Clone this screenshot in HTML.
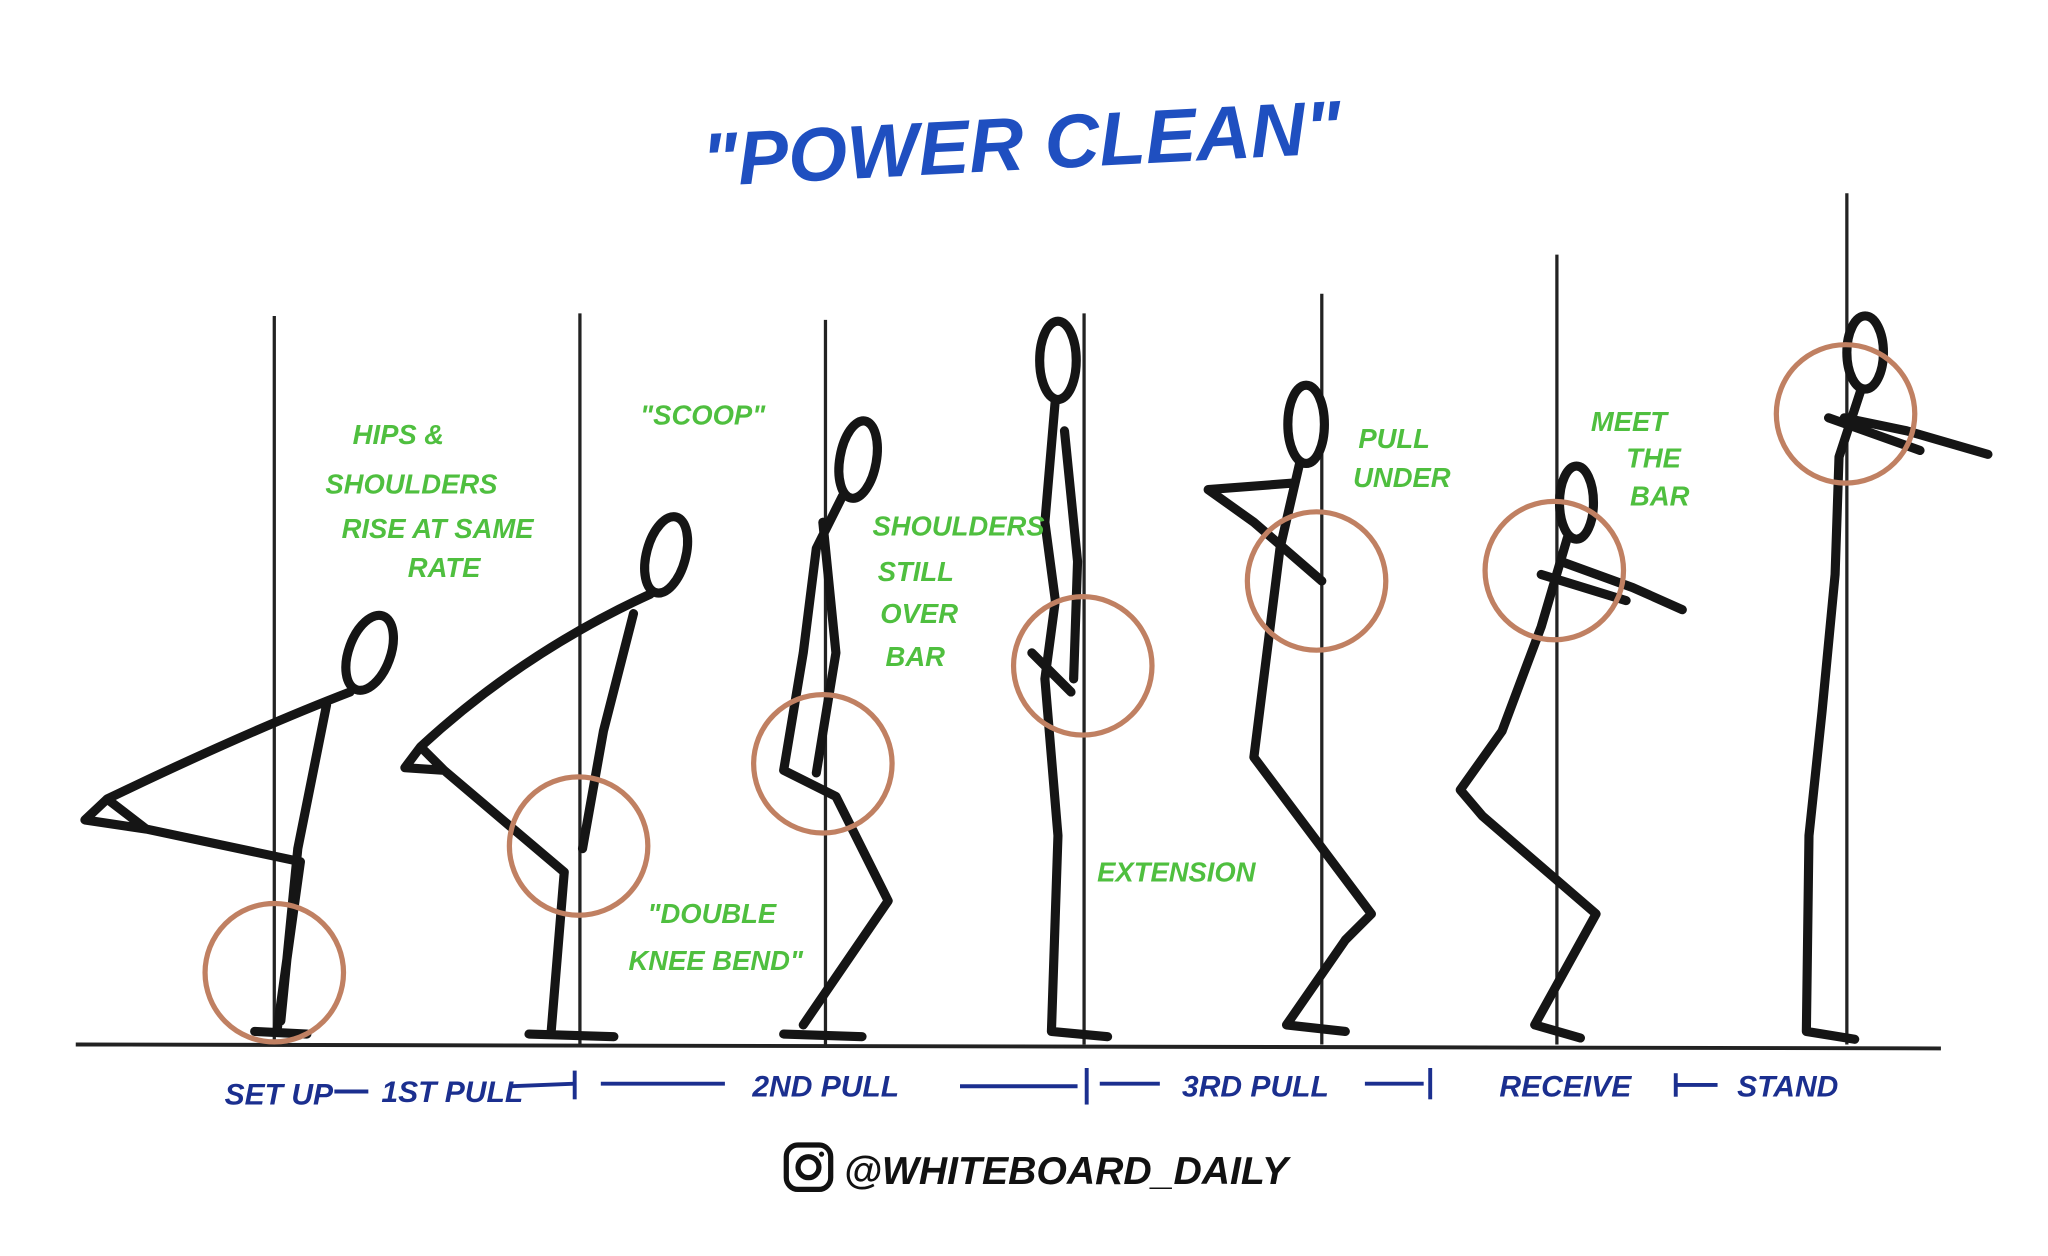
<!DOCTYPE html>
<html><head><meta charset="utf-8"><style>
html,body{margin:0;padding:0;background:#fff;}
svg{display:block;}
.g{fill:#4fbf3f;font-family:"Liberation Sans",sans-serif;font-style:italic;font-weight:bold;font-size:21px;}
.b{fill:#1b2f8f;font-family:"Liberation Sans",sans-serif;font-style:italic;font-weight:bold;font-size:23px;}
.fig{fill:none;stroke:#151515;stroke-width:7;stroke-linecap:round;stroke-linejoin:round;}
.c{fill:none;stroke:#c08062;stroke-width:4;}
.v{stroke:#222;stroke-width:2.5;}
.t{stroke:#1b2f8f;stroke-width:3;}
</style></head><body>
<svg width="2048" height="1256" viewBox="0 0 1568 962" preserveAspectRatio="none">
<rect width="1568" height="962" fill="#fff"/>
<text x="782" y="130" text-anchor="middle" fill="#1f4fc0" font-family="Liberation Sans,sans-serif" font-style="italic" font-weight="bold" font-size="58" transform="rotate(-3 782 110)">"POWER CLEAN"</text>
<g class="v">
<line x1="210" y1="242" x2="210" y2="800"/>
<line x1="444" y1="240" x2="444" y2="800"/>
<line x1="632" y1="245" x2="632" y2="800"/>
<line x1="830" y1="240" x2="830" y2="800"/>
<line x1="1012" y1="225" x2="1012" y2="800"/>
<line x1="1192" y1="195" x2="1192" y2="800"/>
<line x1="1414" y1="148" x2="1414" y2="800"/>
</g>
<line x1="58" y1="800" x2="1486" y2="803" stroke="#222" stroke-width="3"/>
<g class="fig">
<ellipse cx="283" cy="500" rx="16" ry="30" transform="rotate(20 283 500)"/>
<path d="M268 530 Q190 560 82 612 L112 635 L230 660 L212 790 M82 612 L65 628 L112 635 M250 540 L228 650 L215 782 M195 790 L235 792"/>
<ellipse cx="510" cy="425" rx="15" ry="30" transform="rotate(15 510 425)"/>
<path d="M498 455 Q400 500 322 572 L340 590 L432 668 L422 790 M322 572 L310 588 L340 590 M485 470 L462 560 L446 650 M405 792 L470 794"/>
<ellipse cx="657" cy="352" rx="14" ry="30" transform="rotate(10 657 352)"/>
<path d="M645 380 L625 420 L615 500 L600 590 L640 610 L680 690 L615 785 M630 400 L640 500 L625 592 M600 792 L660 794"/>
<ellipse cx="810" cy="276" rx="14" ry="30"/>
<path d="M808 306 L800 400 L808 460 L800 520 L810 640 L805 790 L848 794 M815 330 L825 430 L822 520 M790 500 L820 530"/>
<ellipse cx="1000" cy="325" rx="14" ry="30"/>
<path d="M995 355 L980 420 L970 500 L960 580 L975 600 L1050 700 L1030 720 L985 785 L1030 790 M990 370 L925 375 L960 400 L1012 445"/>
<ellipse cx="1207" cy="385" rx="13" ry="28"/>
<path d="M1200 412 L1180 480 L1150 560 L1118 605 L1135 625 L1222 700 L1175 785 L1210 795 M1195 430 L1250 450 L1288 467 M1180 440 L1245 460"/>
<ellipse cx="1428" cy="270" rx="14" ry="28"/>
<path d="M1425 298 L1408 350 L1405 440 L1395 545 L1385 640 L1383 790 L1420 796 M1412 320 L1460 330 L1522 348 M1400 320 L1470 345"/>
</g>
<g class="c">
<circle cx="210" cy="745" r="53"/>
<circle cx="443" cy="648" r="53"/>
<circle cx="630" cy="585" r="53"/>
<circle cx="829" cy="510" r="53"/>
<circle cx="1008" cy="445" r="53"/>
<circle cx="1190" cy="437" r="53"/>
<circle cx="1413" cy="317" r="53"/>
</g>
<text class="g" x="305" y="340" text-anchor="middle">HIPS &amp;</text>
<text class="g" x="315" y="378" text-anchor="middle">SHOULDERS</text>
<text class="g" x="335" y="412" text-anchor="middle">RISE AT SAME</text>
<text class="g" x="340" y="442" text-anchor="middle">RATE</text>
<text class="g" x="538" y="325" text-anchor="middle">"SCOOP"</text>
<text class="g" x="668" y="410">SHOULDERS</text>
<text class="g" x="672" y="445">STILL</text>
<text class="g" x="674" y="477">OVER</text>
<text class="g" x="678" y="510">BAR</text>
<text class="g" x="545" y="707" text-anchor="middle">"DOUBLE</text>
<text class="g" x="548" y="743" text-anchor="middle">KNEE BEND"</text>
<text class="g" x="840" y="675">EXTENSION</text>
<text class="g" x="1040" y="343">PULL</text>
<text class="g" x="1036" y="373">UNDER</text>
<text class="g" x="1218" y="330">MEET</text>
<text class="g" x="1245" y="358">THE</text>
<text class="g" x="1248" y="387">BAR</text>
<!-- blue bottom labels -->
<text class="b" x="172" y="846">SET UP</text>
<line class="t" x1="256" y1="836" x2="282" y2="836"/>
<text class="b" x="292" y="844">1ST PULL</text>
<line class="t" x1="390" y1="832" x2="440" y2="830"/>
<line class="t" x1="440" y1="820" x2="440" y2="842"/>
<line class="t" x1="460" y1="830" x2="555" y2="830"/>
<text class="b" x="576" y="840">2ND PULL</text>
<line class="t" x1="735" y1="832" x2="825" y2="832"/>
<line class="t" x1="832" y1="818" x2="832" y2="846"/>
<line class="t" x1="842" y1="830" x2="888" y2="830"/>
<text class="b" x="905" y="840">3RD PULL</text>
<line class="t" x1="1045" y1="830" x2="1090" y2="830"/>
<line class="t" x1="1095" y1="818" x2="1095" y2="842"/>
<text class="b" x="1148" y="840">RECEIVE</text>
<line class="t" x1="1283" y1="822" x2="1283" y2="840"/>
<line class="t" x1="1283" y1="831" x2="1315" y2="831"/>
<text class="b" x="1330" y="840">STAND</text>
<rect x="602" y="877" width="34" height="34" rx="9" fill="none" stroke="#111" stroke-width="4"/>
<circle cx="619" cy="894" r="8" fill="none" stroke="#111" stroke-width="4"/>
<circle cx="629" cy="884" r="2" fill="#111"/>
<text x="646" y="907" fill="#111" font-family="Liberation Sans,sans-serif" font-style="italic" font-weight="bold" font-size="30">@WHITEBOARD_DAILY</text>
</svg>
</body></html>
